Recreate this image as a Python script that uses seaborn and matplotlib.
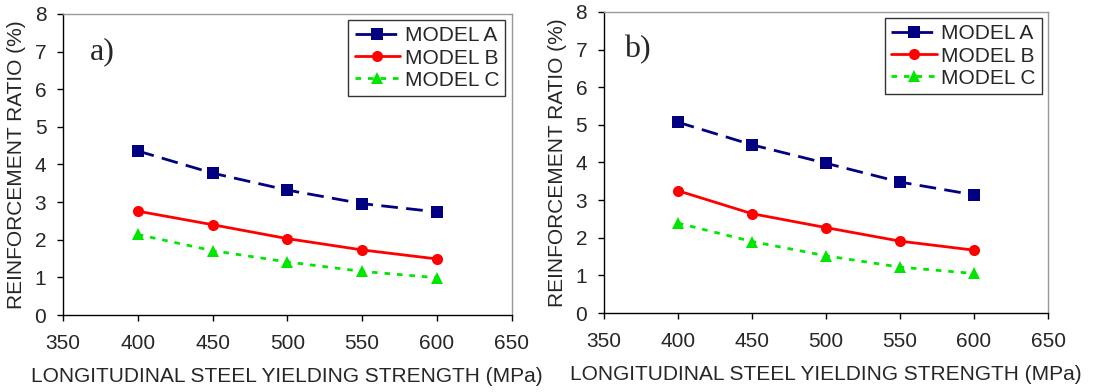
import matplotlib
matplotlib.use("Agg")
import matplotlib.pyplot as plt
import seaborn as sns
import pandas as pd

strength = [400, 450, 500, 550, 600]
a_model_a = [4.36, 3.77, 3.32, 2.96, 2.74]
a_model_b = [2.76, 2.40, 2.03, 1.73, 1.49]
a_model_c = [2.14, 1.71, 1.41, 1.16, 0.99]
b_model_a = [5.07, 4.47, 3.98, 3.48, 3.14]
b_model_b = [3.25, 2.64, 2.27, 1.91, 1.67]
b_model_c = [2.39, 1.90, 1.52, 1.22, 1.05]
series_names = ["MODEL A", "MODEL B", "MODEL C"]
x_ticks = [350, 400, 450, 500, 550, 600, 650]
y_ticks = [0, 1, 2, 3, 4, 5, 6, 7, 8]

sns.set_theme(style="white")
plt.rcParams['font.family'] = ['Liberation Sans', 'DejaVu Sans']

def make_df(va, vb, vc):
    rows = []
    for name, vals in zip(series_names, [va, vb, vc]):
        for x, y in zip(strength, vals):
            rows.append({"x": x, "y": y, "model": name})
    return pd.DataFrame(rows)

palette = {"MODEL A": "#000080", "MODEL B": "#FF0000", "MODEL C": "#00E600"}
dashes = {"MODEL A": (6, 3), "MODEL B": "", "MODEL C": (2, 2.5)}
markers = {"MODEL A": "s", "MODEL B": "o", "MODEL C": "^"}

fig = plt.figure(figsize=(10.94, 3.92), dpi=100)
ax1 = fig.add_axes([0.0576, 0.1964, 0.410, 0.768])
ax2 = fig.add_axes([0.552, 0.2015, 0.406, 0.768])

for ax, data, tag, tx in [(ax1, (a_model_a, a_model_b, a_model_c), "a)", 0.06),
                          (ax2, (b_model_a, b_model_b, b_model_c), "b)", 0.045)]:
    df = make_df(*data)
    sns.lineplot(data=df, x="x", y="y", hue="model", style="model",
                 palette=palette, dashes=dashes, markers=markers,
                 markersize=8, linewidth=2, markeredgewidth=0, ax=ax)
    ax.set_xlim(350, 650)
    ax.set_ylim(0, 8)
    ax.set_xticks(x_ticks)
    ax.set_yticks(y_ticks)
    ax.tick_params(axis='both', labelsize=15, direction='out', length=4,
                   width=1, color='black', bottom=True, left=True, pad=8)
    ax.tick_params(axis='x', pad=10)
    for s in ['left', 'bottom']:
        ax.spines[s].set_color('black')
        ax.spines[s].set_linewidth(1)
    for s in ['top', 'right']:
        ax.spines[s].set_color('#999999')
        ax.spines[s].set_linewidth(1)
    ax.set_xlabel("LONGITUDINAL STEEL YIELDING STRENGTH (MPa)", fontsize=15, labelpad=10)
    ax.set_ylabel("REINFORCEMENT RATIO (%)", fontsize=15, labelpad=6)
    ax.text(tx, 0.875, tag, transform=ax.transAxes, fontsize=23,
            family=['Liberation Serif', 'DejaVu Serif'], va='center')
    leg = ax.legend(loc='upper right', fontsize=15, frameon=True, fancybox=False,
                    borderpad=0.3, labelspacing=0.15, handlelength=2.2,
                    handletextpad=0.2, borderaxespad=0.3)
    leg.get_frame().set_edgecolor('black')
    leg.get_frame().set_linewidth(1)

fig.savefig("out.png", dpi=100)
